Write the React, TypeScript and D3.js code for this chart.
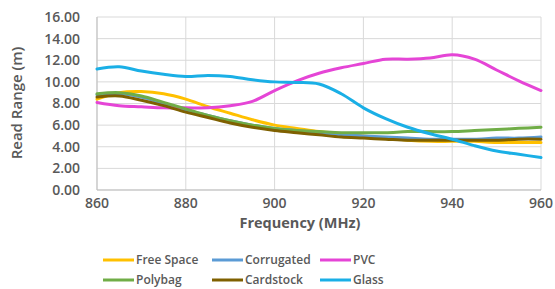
import React from "react";
import * as d3 from "d3";

const freqs = [860, 865, 870, 875, 880, 885, 890, 895, 900, 905, 910, 915, 920, 925, 930, 935, 940, 945, 950, 955, 960];
const freeSpace = [8.4, 9.0, 9.1, 8.9, 8.4, 7.7, 7.1, 6.5, 6.0, 5.7, 5.4, 5.2, 5.0, 4.8, 4.6, 4.5, 4.5, 4.5, 4.4, 4.4, 4.4];
const corrugated = [8.8, 8.9, 8.6, 8.0, 7.4, 6.9, 6.4, 6.0, 5.7, 5.5, 5.3, 5.1, 5.0, 4.9, 4.8, 4.7, 4.7, 4.7, 4.8, 4.8, 4.9];
const pvc = [8.1, 7.8, 7.7, 7.6, 7.6, 7.6, 7.8, 8.2, 9.2, 10.1, 10.8, 11.3, 11.7, 12.1, 12.1, 12.2, 12.5, 12.1, 11.1, 10.1, 9.2];
const polybag = [8.9, 9.0, 8.7, 8.1, 7.5, 6.9, 6.4, 6.0, 5.7, 5.5, 5.4, 5.3, 5.3, 5.3, 5.4, 5.4, 5.4, 5.5, 5.6, 5.7, 5.8];
const cardstock = [8.6, 8.7, 8.3, 7.8, 7.2, 6.7, 6.2, 5.8, 5.5, 5.3, 5.1, 4.9, 4.8, 4.7, 4.6, 4.6, 4.6, 4.6, 4.6, 4.7, 4.7];
const glass = [11.2, 11.4, 11.0, 10.7, 10.5, 10.6, 10.5, 10.2, 10.0, 9.95, 9.8, 8.9, 7.6, 6.6, 5.8, 5.2, 4.7, 4.1, 3.6, 3.3, 3.0];

const seriesNames = ["Free Space", "Corrugated", "PVC", "Polybag", "Cardstock", "Glass"];
const seriesValues = [freeSpace, corrugated, pvc, polybag, cardstock, glass];
const seriesColors = ["#FFC000", "#5B9BD5", "#E545D6", "#70AD47", "#7F6000", "#1AAFE6"];

const xTicks = [860, 880, 900, 920, 940, 960];
const yTicks = [0, 2, 4, 6, 8, 10, 12, 14, 16];

export default function App() {
  const left = 97, right = 541, top = 17, bottom = 190;
  const x = d3.scaleLinear().domain([860, 960]).range([left, right]);
  const y = d3.scaleLinear().domain([0, 16]).range([bottom, top]);
  const line = d3
    .line<number>()
    .x((_, i) => x(freqs[i]))
    .y((d) => y(d))
    .curve(d3.curveCatmullRom.alpha(0.5));

  const font = "'Open Sans', 'Liberation Sans', sans-serif";
  const textColor = "#595959";

  const legendX = [103, 212, 320];
  const legendY = [260, 280];

  return (
    <svg width={555} height={289} style={{ position: "absolute", left: 0, top: 0, background: "#fff" }}>
      <rect width={555} height={289} fill="#fff" />
      {yTicks.map((t) => (
        <line key={"gy" + t} x1={left} x2={right} y1={y(t)} y2={y(t)} stroke="#D9D9D9" strokeWidth={1} />
      ))}
      {xTicks.map((t) => (
        <line key={"gx" + t} x1={x(t)} x2={x(t)} y1={top} y2={bottom} stroke="#D9D9D9" strokeWidth={1} />
      ))}
      <line x1={left} x2={right} y1={bottom} y2={bottom} stroke="#BFBFBF" strokeWidth={1} />
      <line x1={left} x2={left} y1={top} y2={bottom} stroke="#BFBFBF" strokeWidth={1} />
      {yTicks.map((t) => (
        <text key={"ty" + t} x={80} y={y(t)} dy="0.35em" textAnchor="end" fontFamily={font} fontWeight={600} fontSize={14} fill={textColor}>
          {t.toFixed(2)}
        </text>
      ))}
      {xTicks.map((t) => (
        <text key={"tx" + t} x={x(t)} y={208} textAnchor="middle" fontFamily={font} fontWeight={600} fontSize={14} fill={textColor}>
          {t}
        </text>
      ))}
      <text x={300} y={228} textAnchor="middle" fontFamily={font} fontWeight={700} fontSize={14.5} fill={textColor}>
        Frequency (MHz)
      </text>
      <text transform="translate(22,103) rotate(-90)" textAnchor="middle" fontFamily={font} fontWeight={600} fontSize={15} fill={textColor}>
        Read Range (m)
      </text>
      {seriesValues.map((vals, i) => (
        <path key={"s" + i} d={line(vals) || ""} fill="none" stroke={seriesColors[i]} strokeWidth={3} strokeLinecap="round" />
      ))}
      {seriesNames.map((name, i) => {
        const lx = legendX[i % 3];
        const ly = legendY[Math.floor(i / 3)];
        return (
          <g key={"lg" + i}>
            <line x1={lx} x2={lx + 31} y1={ly} y2={ly} stroke={seriesColors[i]} strokeWidth={3} />
            <text x={lx + 33} y={ly} dy="0.35em" fontFamily={font} fontWeight={600} fontSize={12} fill={textColor}>
              {name}
            </text>
          </g>
        );
      })}
    </svg>
  );
}
